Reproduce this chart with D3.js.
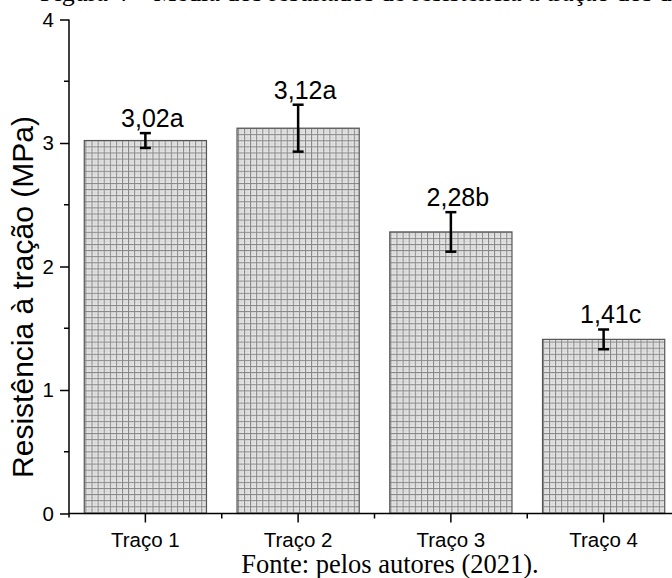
<!DOCTYPE html>
<html>
<head>
<meta charset="utf-8">
<script src="https://cdn.jsdelivr.net/npm/d3@7"></script>
<style>
  html, body { margin: 0; padding: 0; background: #fff; }
  svg { display: block; }
</style>
</head>
<body>
<svg id="chart" width="672" height="578"></svg>
<script>
// Tensile strength per mix (MPa), with standard deviation and Tukey letters
const categories = ["Traço 1", "Traço 2", "Traço 3", "Traço 4"];
const means = [3.02, 3.12, 2.28, 1.41];
const errors = [0.06, 0.19, 0.16, 0.08];
const groups = ["a", "a", "b", "c"];
const yTicks = [0, 1, 2, 3, 4];
const yMinorTicks = [0.5, 1.5, 2.5, 3.5];

const svg = d3.select("#chart");

const y = d3.scaleLinear().domain([0, 4]).range([513.5, 19.5]);
const x = d3.scaleBand().domain(categories).range([69, 680])
  .paddingInner(0.2).paddingOuter(0.1);

// Grid-hatch fill used by the bars
const defs = svg.append("defs");
const pat = defs.append("pattern")
  .attr("id", "grid")
  .attr("patternUnits", "userSpaceOnUse")
  .attr("width", 6.1).attr("height", 6.1);
pat.append("rect").attr("width", 6.1).attr("height", 6.1).attr("fill", "#e8e8e8");
pat.append("rect").attr("x", 3).attr("width", 1).attr("height", 6.1).attr("fill", "#d6d6d6");
pat.append("rect").attr("y", 3).attr("width", 6.1).attr("height", 1).attr("fill", "#d6d6d6");
pat.append("rect").attr("x", 0).attr("width", 1).attr("height", 6.1).attr("fill", "#858585");
pat.append("rect").attr("y", 0).attr("width", 6.1).attr("height", 1).attr("fill", "#858585");

// Figure caption above the plot (page top, mostly outside the view)
svg.append("text")
  .attr("x", 40).attr("y", 0.5)
  .attr("font-family", "'Liberation Serif', 'Times New Roman', serif")
  .attr("font-size", 26)
  .attr("fill", "#000")
  .text("Figura 4 – Média dos resultados de resistência à tração dos diferentes traços");

// Bars
svg.append("g").selectAll("rect")
  .data(categories)
  .join("rect")
  .attr("x", d => x(d))
  .attr("y", (d, i) => y(means[i]))
  .attr("width", x.bandwidth())
  .attr("height", (d, i) => y(0) - y(means[i]))
  .attr("fill", "url(#grid)")
  .attr("stroke", "#555")
  .attr("stroke-width", 1.2);

// Error bars
const eb = svg.append("g").attr("stroke", "#000").attr("stroke-width", 2.5);
categories.forEach((c, i) => {
  const cx = x(c) + x.bandwidth() / 2;
  const top = y(means[i] + errors[i]);
  const bot = y(means[i] - errors[i]);
  eb.append("line").attr("x1", cx).attr("x2", cx).attr("y1", top).attr("y2", bot);
  eb.append("line").attr("x1", cx - 5.5).attr("x2", cx + 5.5).attr("y1", top).attr("y2", top);
  eb.append("line").attr("x1", cx - 5.5).attr("x2", cx + 5.5).attr("y1", bot).attr("y2", bot);
});

// Value labels
svg.append("g").selectAll("text")
  .data(categories)
  .join("text")
  .attr("x", d => x(d) + x.bandwidth() / 2 + 7)
  .attr("y", (d, i) => y(means[i] + errors[i]) - 6)
  .attr("text-anchor", "middle")
  .attr("font-family", "'Liberation Sans', Arial, sans-serif")
  .attr("font-size", 25)
  .attr("fill", "#000")
  .text((d, i) => d3.format(".2f")(means[i]).replace(".", ",") + groups[i]);

// Y axis
const yAxis = svg.append("g").attr("transform", "translate(69,0)")
  .call(d3.axisLeft(y).tickValues(yTicks).tickSize(9).tickPadding(6)
    .tickFormat(d3.format("d")));
yAxis.append("g").selectAll("line")
  .data(yMinorTicks)
  .join("line")
  .attr("x1", -5).attr("x2", 0)
  .attr("y1", d => y(d)).attr("y2", d => y(d))
  .attr("stroke", "#000").attr("stroke-width", 1.5);
yAxis.select(".domain").attr("d", `M0,${y(4)}V${y(0) + 4}`);

// X axis
const xAxis = svg.append("g").attr("transform", `translate(0,${y(0)})`)
  .call(d3.axisBottom(x).tickSize(9).tickPadding(10));
xAxis.select(".domain").attr("d", "M69,0H672");
const bounds = categories.map(c => x(c) - x.step() * x.paddingInner() / 2).concat([680]);
xAxis.append("g").selectAll("line")
  .data(bounds.slice(1))
  .join("line")
  .attr("x1", d => d).attr("x2", d => d)
  .attr("y1", 0).attr("y2", 5)
  .attr("stroke", "#000").attr("stroke-width", 1.5);

[yAxis, xAxis].forEach(a => {
  a.selectAll(".domain, .tick line").attr("stroke", "#000").attr("stroke-width", 1.5);
  a.selectAll(".tick text")
    .attr("font-family", "'Liberation Sans', Arial, sans-serif")
    .attr("font-size", 20.5)
    .attr("fill", "#000");
});

// Y axis title
svg.append("text")
  .attr("transform", "translate(33,297) rotate(-90)")
  .attr("text-anchor", "middle")
  .attr("font-family", "'Liberation Sans', Arial, sans-serif")
  .attr("font-size", 30)
  .attr("fill", "#000")
  .text("Resistência à tração (MPa)");

// Source line
svg.append("text")
  .attr("x", 390).attr("y", 573)
  .attr("text-anchor", "middle")
  .attr("font-family", "'Liberation Serif', 'Times New Roman', serif")
  .attr("font-size", 26.5)
  .attr("fill", "#000")
  .text("Fonte: pelos autores (2021).");
</script>
</body>
</html>
